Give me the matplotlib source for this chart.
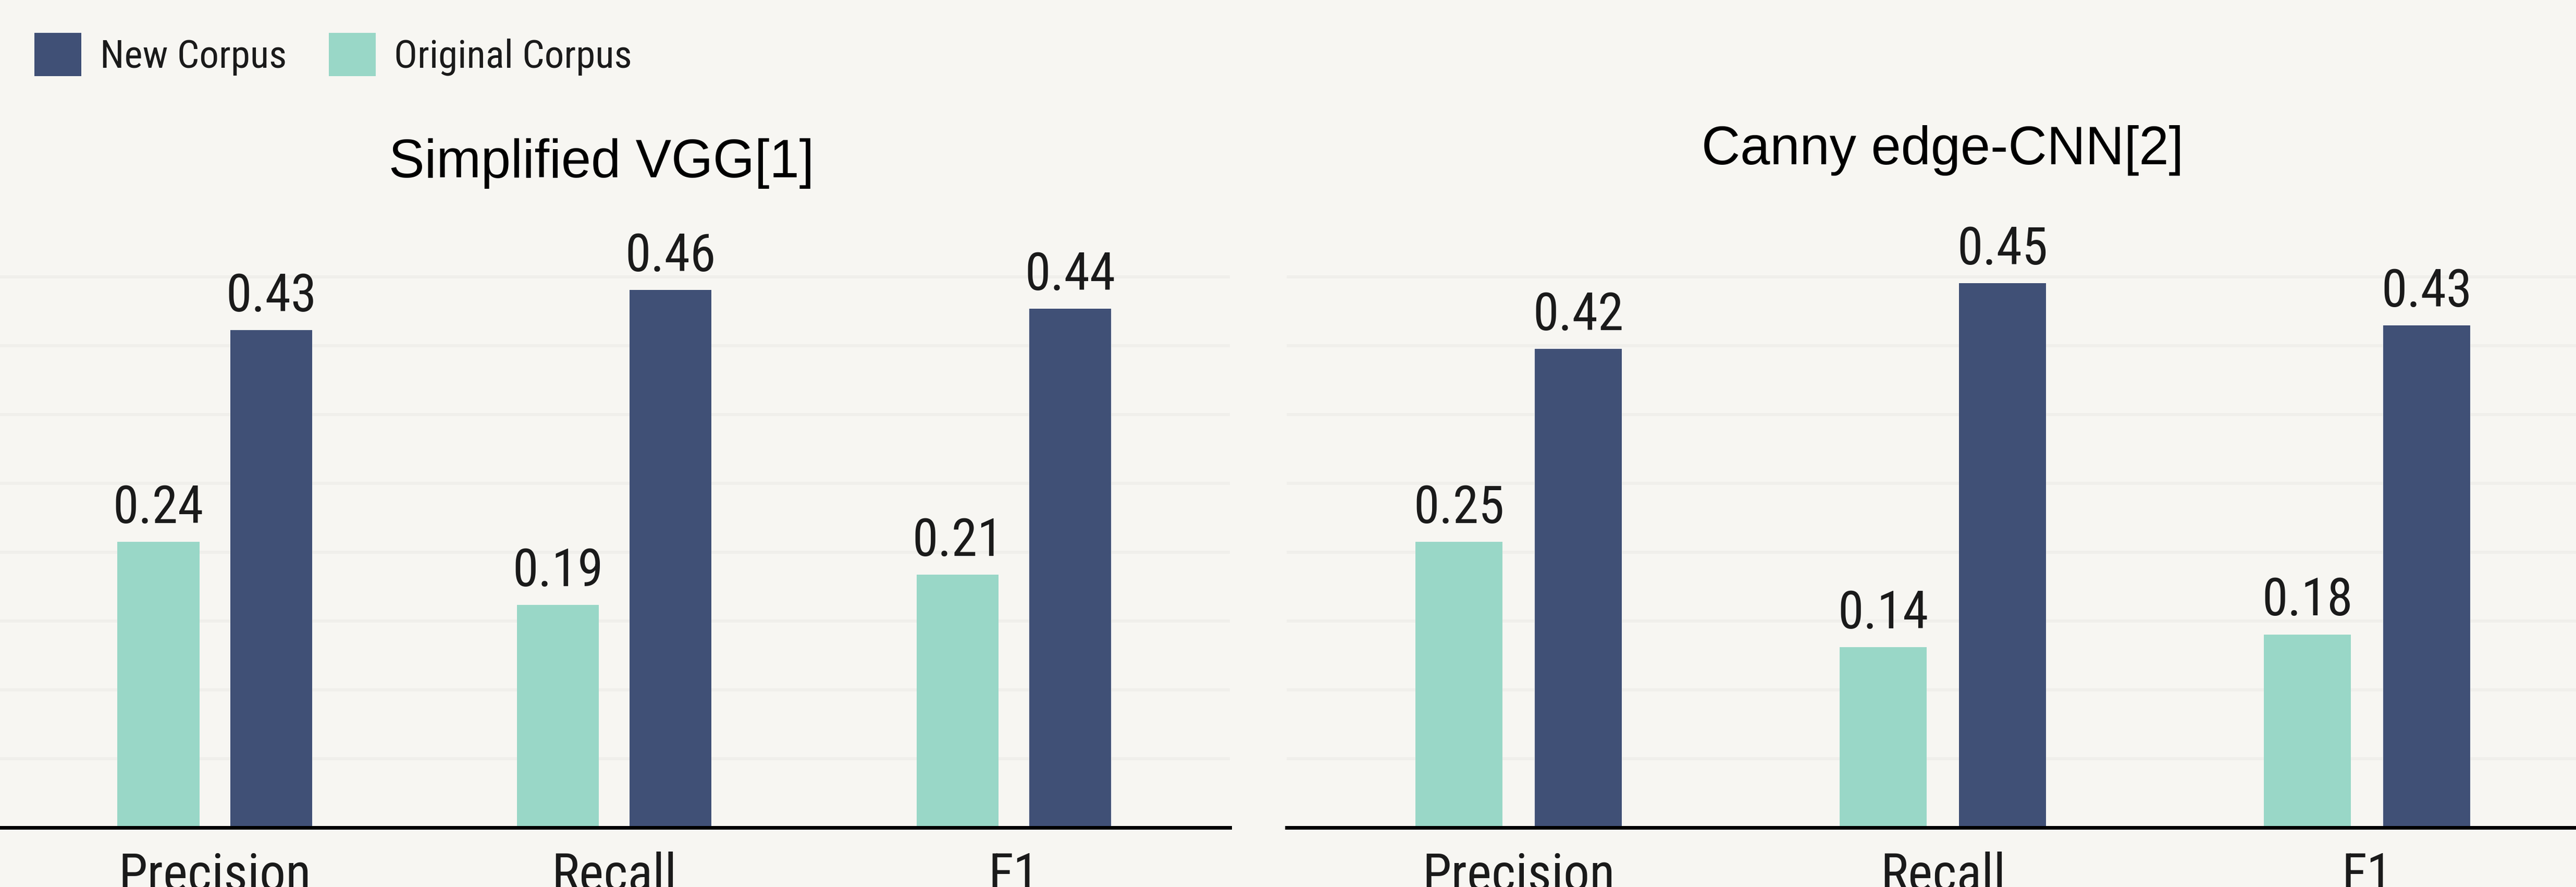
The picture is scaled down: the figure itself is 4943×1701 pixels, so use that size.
import matplotlib
matplotlib.use('Agg')
import matplotlib.pyplot as plt
from matplotlib import font_manager
from matplotlib.patches import Patch
import numpy as np

# === DATI ===
metrics = ['Precision', 'Recall', 'F1']
models = ['Simplified VGG[1]', 'Canny edge-CNN[2]']
series = ['New Corpus', 'Original Corpus']

# bar heights as drawn, value labels as printed
vgg_new = [0.425, 0.459, 0.443]
vgg_orig = [0.244, 0.190, 0.216]
cnn_new = [0.409, 0.465, 0.429]
cnn_orig = [0.244, 0.154, 0.165]

vgg_new_lbl = ['0.43', '0.46', '0.44']
vgg_orig_lbl = ['0.24', '0.19', '0.21']
cnn_new_lbl = ['0.42', '0.45', '0.43']
cnn_orig_lbl = ['0.25', '0.14', '0.18']

# === STILE ===
NAVY = '#405076'
MINT = '#99D7C7'
BG = '#F7F6F2'
GRID = '#F0EFEB'
INK = '#1A1A1A'

names = {f.name for f in font_manager.fontManager.ttflist}
body_font = 'Roboto Condensed' if 'Roboto Condensed' in names else 'Roboto'
if 'Liberation Sans Narrow' in names:
    title_font, title_size = 'Liberation Sans Narrow', 86
else:
    title_font, title_size = 'Liberation Sans', 74

W, H = 4943, 1701
fig = plt.figure(figsize=(W / 100, H / 100), dpi=100, facecolor=BG)

grid_step = 0.0588
y_top = 0.493
bottom = (H - 1587) / H
height = (1587 - 480) / H

panels = [
    # x0 px, x1 px, xlim, title x center, title baseline
    (0, 2360, (-0.5375, 2.541), 1154, 340,
     vgg_new, vgg_orig, vgg_new_lbl, vgg_orig_lbl, models[0]),
    (2469, 4943, (-0.5467, 2.4926), 3728, 315,
     cnn_new, cnn_orig, cnn_new_lbl, cnn_orig_lbl, models[1]),
]

x = np.arange(len(metrics))
bw = 0.205
off = 0.141

for x0, x1, xlim, tx, tb, new, orig, new_lbl, orig_lbl, title in panels:
    ax = fig.add_axes([x0 / W, bottom, (x1 - x0) / W, height])
    ax.set_facecolor(BG)
    ax.set_xlim(*xlim)
    ax.set_ylim(0, y_top)

    ax.bar(x - off, orig, width=bw, color=MINT, zorder=2)
    ax.bar(x + off, new, width=bw, color=NAVY, zorder=2)

    for xi, h, lbl in zip(x - off, orig, orig_lbl):
        ax.annotate(lbl, (xi, h), xytext=(0, 26), textcoords='offset points',
                    ha='center', va='baseline', fontsize=72, color=INK,
                    family=body_font)
    for xi, h, lbl in zip(x + off, new, new_lbl):
        ax.annotate(lbl, (xi, h), xytext=(0, 26), textcoords='offset points',
                    ha='center', va='baseline', fontsize=72, color=INK,
                    family=body_font)

    ax.set_yticks(np.arange(1, 9) * grid_step)
    ax.set_yticklabels([])
    ax.yaxis.grid(True, color=GRID, lw=4.3, zorder=0)
    ax.set_axisbelow(True)

    ax.set_xticks(x)
    ax.set_xticklabels(metrics, fontsize=72, color=INK, family=body_font)
    ax.tick_params(axis='both', length=0)
    ax.tick_params(axis='x', pad=33)

    for s in ['top', 'left', 'right']:
        ax.spines[s].set_visible(False)
    ax.spines['bottom'].set_color('black')
    ax.spines['bottom'].set_linewidth(5)

    fig.text(tx / W, (H - tb) / H, title, ha='center', va='baseline',
             fontsize=title_size, family=title_font, color='black')

# === LEGENDA ===
handles = [Patch(facecolor=NAVY, label=series[0]),
           Patch(facecolor=MINT, label=series[1])]
fig.legend(handles=handles, loc='upper left', bbox_to_anchor=(66 / W, 1 - 63 / H),
           ncol=2, frameon=False, prop={'family': body_font, 'size': 54},
           handlelength=1.2, handleheight=1.33, handletextpad=0.48,
           columnspacing=1.07, borderpad=0, borderaxespad=0, labelcolor=INK)

fig.savefig('out.png', dpi=100, facecolor=BG)
